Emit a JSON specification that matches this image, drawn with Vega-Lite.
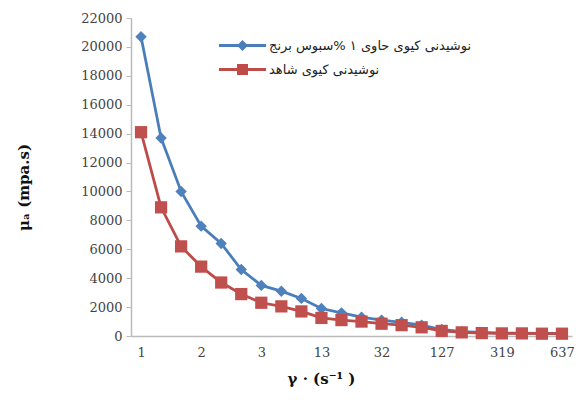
{
  "$schema": "https://vega.github.io/schema/vega-lite/v6.json",
  "width": 441,
  "height": 318,
  "autosize": {"type": "none"},
  "padding": {"left": 131, "top": 18, "right": 4, "bottom": 72},
  "background": "white",
  "config": {"view": {"stroke": null}},
  "datasets": {
    "d": [
      {"x": "1", "s": "A", "v": 20700}, {"x": "1.3", "s": "A", "v": 13700}, {"x": "1.6", "s": "A", "v": 10000},
      {"x": "2", "s": "A", "v": 7600}, {"x": "2.3", "s": "A", "v": 6400}, {"x": "2.6", "s": "A", "v": 4600},
      {"x": "3", "s": "A", "v": 3500}, {"x": "6", "s": "A", "v": 3100}, {"x": "10", "s": "A", "v": 2600},
      {"x": "13", "s": "A", "v": 1900}, {"x": "19", "s": "A", "v": 1600}, {"x": "26", "s": "A", "v": 1300},
      {"x": "32", "s": "A", "v": 1100}, {"x": "64", "s": "A", "v": 950}, {"x": "96", "s": "A", "v": 750},
      {"x": "127", "s": "A", "v": 450}, {"x": "191", "s": "A", "v": 300}, {"x": "255", "s": "A", "v": 250},
      {"x": "319", "s": "A", "v": 200}, {"x": "425", "s": "A", "v": 200}, {"x": "531", "s": "A", "v": 180},
      {"x": "637", "s": "A", "v": 180},
      {"x": "1", "s": "B", "v": 14100}, {"x": "1.3", "s": "B", "v": 8900}, {"x": "1.6", "s": "B", "v": 6200},
      {"x": "2", "s": "B", "v": 4800}, {"x": "2.3", "s": "B", "v": 3700}, {"x": "2.6", "s": "B", "v": 2900},
      {"x": "3", "s": "B", "v": 2300}, {"x": "6", "s": "B", "v": 2050}, {"x": "10", "s": "B", "v": 1700},
      {"x": "13", "s": "B", "v": 1250}, {"x": "19", "s": "B", "v": 1100}, {"x": "26", "s": "B", "v": 1000},
      {"x": "32", "s": "B", "v": 850}, {"x": "64", "s": "B", "v": 750}, {"x": "96", "s": "B", "v": 600},
      {"x": "127", "s": "B", "v": 350}, {"x": "191", "s": "B", "v": 250}, {"x": "255", "s": "B", "v": 200},
      {"x": "319", "s": "B", "v": 180}, {"x": "425", "s": "B", "v": 180}, {"x": "531", "s": "B", "v": 160},
      {"x": "637", "s": "B", "v": 160}
    ],
    "names": [
      {"s": "A", "name": "نوشیدنی کیوی حاوی ۱ %سبوس برنج"},
      {"s": "B", "name": "نوشیدنی کیوی شاهد"}
    ]
  },
  "data": {"name": "d"},
  "encoding": {
    "x": {
      "field": "x", "type": "ordinal", "sort": null,
      "scale": {"type": "point", "padding": 0.5},
      "axis": {
        "title": "γ · (s⁻¹ )",
        "titleFont": "DejaVu Serif", "titleFontSize": 15, "titleFontWeight": "bold", "titleColor": "#111",
        "titleX": 190, "titlePadding": 12,
        "labelExpr": "indexof(['1','2','3','13','32','127','319','637'], datum.value) >= 0 ? datum.label : ''",
        "labelAngle": 0, "labelFont": "DejaVu Serif", "labelFontSize": 13, "labelColor": "#444",
        "labelPadding": 10, "ticks": false, "domainColor": "#bbbbbb", "domainWidth": 1.5, "grid": false
      }
    },
    "y": {
      "field": "v", "type": "quantitative",
      "scale": {"domain": [0, 22000], "nice": false},
      "axis": {
        "title": "μₐ (mpa.s)", "format": "d",
        "titleFont": "DejaVu Serif", "titleFontSize": 15, "titleFontWeight": "bold", "titleColor": "#111",
        "titleX": -100, "titleY": 169,
        "values": [0, 2000, 4000, 6000, 8000, 10000, 12000, 14000, 16000, 18000, 20000, 22000],
        "labelFont": "DejaVu Serif", "labelFontSize": 13, "labelColor": "#444",
        "tickColor": "#bbbbbb", "tickSize": 5, "domainColor": "#bbbbbb", "domainWidth": 1.5,
        "labelPadding": 4, "grid": false
      }
    }
  },
  "layer": [
    {
      "transform": [{"filter": "datum.s === 'A'"}],
      "mark": {"type": "line", "color": "#4a7ebb", "strokeWidth": 2.8,
        "point": {"shape": "diamond", "filled": true, "size": 130, "color": "#4f81bd"}}
    },
    {
      "transform": [{"filter": "datum.s === 'B'"}],
      "mark": {"type": "line", "color": "#be4b48", "strokeWidth": 2.8,
        "point": {"shape": "square", "filled": true, "size": 150, "color": "#c0504d"}}
    },
    {
      "transform": [{"lookup": "s", "from": {"data": {"name": "names"}, "key": "s", "fields": ["name"]}}],
      "mark": {"type": "point", "filled": true, "opacity": 0},
      "encoding": {
        "color": {
          "field": "name", "type": "nominal", "sort": null,
          "scale": {
            "domain": ["نوشیدنی کیوی حاوی ۱ %سبوس برنج", "نوشیدنی کیوی شاهد"],
            "range": ["#4a7ebb", "#be4b48"]
          },
          "legend": {
            "title": null, "orient": "none", "legendX": 105, "legendY": 21,
            "symbolOpacity": 1, "symbolSize": 100, "labelOffset": 20, "symbolStrokeWidth": 0,
            "labelFont": "DejaVu Sans", "labelFontSize": 13, "labelColor": "#222",
            "rowPadding": 10, "labelLimit": 400
          }
        },
        "shape": {
          "field": "name", "type": "nominal", "sort": null,
          "scale": {
            "domain": ["نوشیدنی کیوی حاوی ۱ %سبوس برنج", "نوشیدنی کیوی شاهد"],
            "range": [
              "M-4.7,-0.28L4.7,-0.28L4.7,0.28L-4.7,0.28Z M0,-1.1L1.1,0L0,1.1L-1.1,0Z",
              "M-4.7,-0.28L4.7,-0.28L4.7,0.28L-4.7,0.28Z M-1.1,-1.1L1.1,-1.1L1.1,1.1L-1.1,1.1Z"
            ]
          },
          "legend": {
            "title": null, "orient": "none", "legendX": 105, "legendY": 21,
            "symbolOpacity": 1, "symbolSize": 100, "labelOffset": 20, "symbolStrokeWidth": 0,
            "labelFont": "DejaVu Sans", "labelFontSize": 13, "labelColor": "#222",
            "rowPadding": 10, "labelLimit": 400
          }
        }
      }
    }
  ]
}
